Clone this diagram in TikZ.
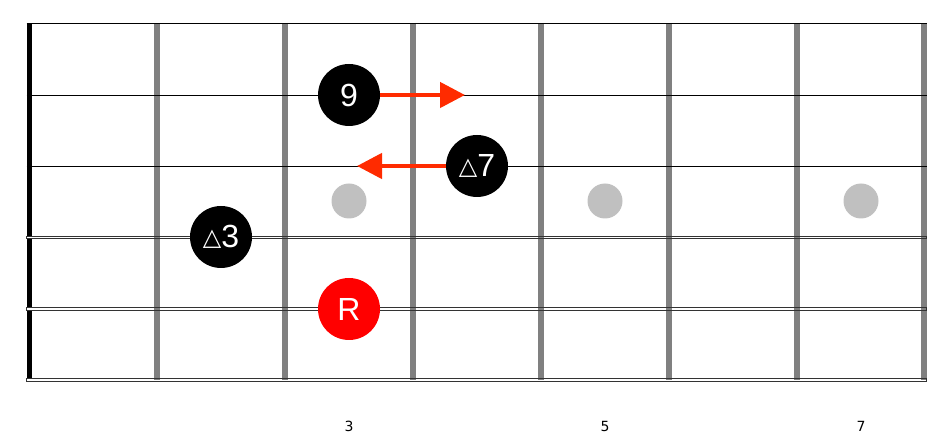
\documentclass[tikz,border=0pt]{standalone}
\usepackage{fontspec}
\setmainfont{Liberation Sans}
\newfontfamily\symfont{DejaVu Sans}
\usetikzlibrary{arrows.meta}
\definecolor{fretgray}{RGB}{128,128,128}
\definecolor{dotgray}{RGB}{192,192,192}
\definecolor{arrowred}{RGB}{255,43,0}
\definecolor{woundgray}{RGB}{51,51,51}
\newcommand{\tri}{\raisebox{2.6pt}{\symfont\fontsize{24}{24}\selectfont △}}

\begin{document}
\begin{tikzpicture}[x=1pt,y=-1pt,
  fret/.style={draw=fretgray,line width=6pt},
  thin/.style={draw=black,line width=0.9pt},
  wound/.style={draw=woundgray,line width=0.9pt},
  note/.style={circle,fill=black,text=white,minimum size=62pt,inner sep=0pt,
    font=\fontsize{32}{32}\selectfont},
  root/.style={note,fill=red},
  move/.style={draw=arrowred,line width=4.5pt,-{Triangle[length=25pt,width=25pt]}},
  fretno/.style={font=\symfont\fontsize{14}{14}\selectfont}]
\useasboundingbox (0,0) rectangle (946,438);

\fill (26.7,23) rectangle (32,380);

\fill[white] (26.7,236) rectangle (926.7,238.7);
\fill[white] (26.7,307.3) rectangle (926.7,310);
\fill[white] (26.7,378.7) rectangle (926.7,381.4);

\draw[fret] (157,23) -- (157,380);
\draw[fret] (285,23) -- (285,380);
\draw[fret] (413,23) -- (413,380);
\draw[fret] (541,23) -- (541,380);
\draw[fret] (669,23) -- (669,380);
\draw[fret] (797,23) -- (797,380);
\draw[fret] (923.7,23) -- (923.7,380);

\draw[thin] (26.7,23.3) -- (926.7,23.3);
\draw[thin] (26.7,95.3) -- (926.7,95.3);
\draw[thin] (26.7,166.3) -- (926.7,166.3);
\draw[wound] (26.7,236) rectangle (926.7,238.7);
\draw[wound] (26.7,307.3) rectangle (926.7,310);
\draw[wound] (26.7,378.7) rectangle (926.7,381.4);

\fill[dotgray] (349,201) circle (17.5);
\fill[dotgray] (605,201) circle (17.5);
\fill[dotgray] (861,201) circle (17.5);

\node[note] (N9) at (349,95) {9};
\node[note] (T7) at (477,166) {\tri7};
\node[note] (T3) at (221,237) {\tri3};
\node[root] (R) at (349,309) {R};

\coordinate (A) at (465,95);
\coordinate (B) at (357,166);
\draw[move] (N9.east) -- (A);
\draw[move] (T7.west) -- (B);

\node[fretno] (F3) at (349,426) {3};
\node[fretno] (F5) at (605,426) {5};
\node[fretno] (F7) at (861,426) {7};
\end{tikzpicture}
\end{document}
